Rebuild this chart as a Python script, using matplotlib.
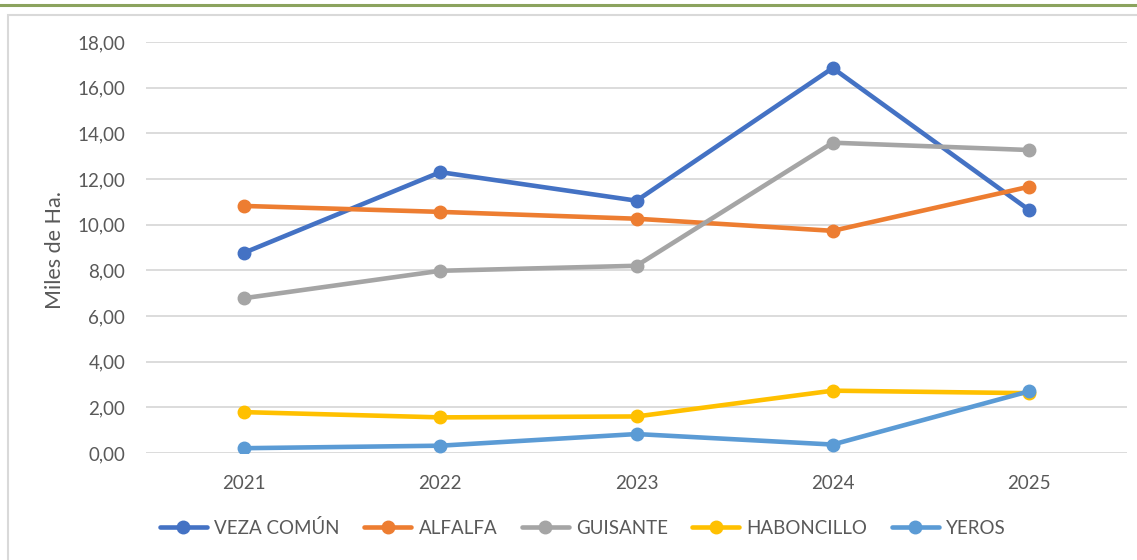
import matplotlib.pyplot as plt
import matplotlib.patches as mpatches
from matplotlib.lines import Line2D

# Datos (miles de hectáreas)
years = ["2021", "2022", "2023", "2024", "2025"]
veza_comun = [8.77, 12.30, 11.05, 16.86, 10.65]
alfalfa = [10.82, 10.56, 10.26, 9.73, 11.66]
guisante = [6.78, 7.98, 8.20, 13.59, 13.27]
haboncillo = [1.79, 1.56, 1.60, 2.73, 2.62]
yeros = [0.21, 0.32, 0.83, 0.37, 2.70]

series = [
    ("VEZA COMÚN", veza_comun, "#4472C4"),
    ("ALFALFA", alfalfa, "#ED7D31"),
    ("GUISANTE", guisante, "#A5A5A5"),
    ("HABONCILLO", haboncillo, "#FFC000"),
    ("YEROS", yeros, "#5B9BD5"),
]

plt.rcParams['font.family'] = ['Lato', 'DejaVu Sans']
text_color = "#595959"

fig = plt.figure(figsize=(11.37, 5.6), dpi=100)

# Marco del gráfico y línea verde superior
fig.patches.append(mpatches.Rectangle((8 / 1137, -0.1), 1.2, 1 - 15 / 560 + 0.1,
                                      transform=fig.transFigure, fill=False,
                                      edgecolor="#d9d9d9", linewidth=1.5))
fig.add_artist(Line2D([0, 1], [1 - 5 / 560, 1 - 5 / 560], transform=fig.transFigure,
                      color="#8ba35e", linewidth=2.2))

ax = fig.add_axes([146 / 1137, 1 - 453 / 560, 981 / 1137, 411 / 560])

x = list(range(len(years)))
for name, vals, color in series:
    ax.plot(x, vals, color=color, linewidth=3.3, marker="o", markersize=9,
            label=name, solid_capstyle="round")

ax.set_xlim(-0.5, len(years) - 0.5)
ax.set_ylim(0, 18)
ax.set_yticks(range(0, 19, 2))
ax.set_yticklabels([f"{v:.2f}".replace(".", ",") for v in range(0, 19, 2)])
ax.set_xticks(x)
ax.set_xticklabels(years)

ax.grid(axis="y", color="#d9d9d9", linewidth=1.3)
ax.set_axisbelow(True)
for s in ax.spines.values():
    s.set_visible(False)
ax.tick_params(axis="both", length=0, colors=text_color, labelsize=13.5)
ax.tick_params(axis="y", pad=15)
ax.tick_params(axis="x", pad=16)

fig.text(55 / 1137, 1 - 250 / 560, "Miles de Ha.", rotation=90, ha="center",
         va="center", fontsize=15.5, color=text_color)

leg = fig.legend(loc="center", bbox_to_anchor=(583 / 1137, 1 - 528 / 560), ncol=5,
                 frameon=False, fontsize=13.5, handlelength=2.5, handletextpad=0.4,
                 columnspacing=1.3)
for t in leg.get_texts():
    t.set_color(text_color)

fig.savefig("out.png", dpi=100)
